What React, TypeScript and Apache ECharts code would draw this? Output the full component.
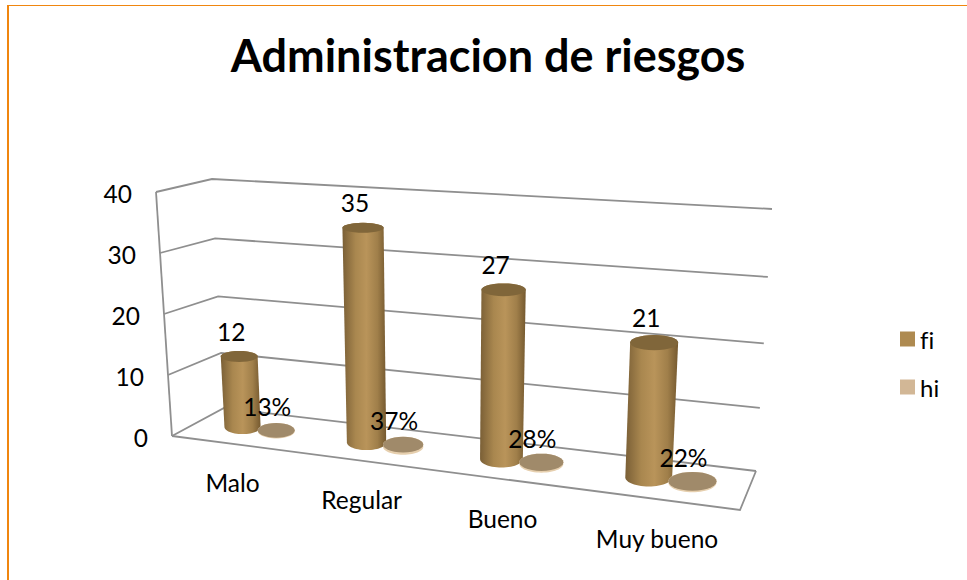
import React, { useEffect, useRef } from "react";
import * as echarts from "echarts";

const categories = ["Malo", "Regular", "Bueno", "Muy bueno"];
const fiName = "fi";
const hiName = "hi";
const fiValues = [12, 35, 27, 21];
const hiValues = [0.13, 0.37, 0.28, 0.22];
const yTicks = [0, 10, 20, 30, 40];
const titleText = "Administracion de riesgos";

const FONT = "Lato, Carlito, sans-serif";
const LABEL_SIZE = 24.5;
type Pt = [number, number];

// Builds the perspective map from the unit square onto a screen quadrilateral
// given as front-left, front-right, back-right, back-left.
function quadMap(p0: Pt, p1: Pt, p2: Pt, p3: Pt) {
  const dx1 = p1[0] - p2[0], dx2 = p3[0] - p2[0], sx = p0[0] - p1[0] + p2[0] - p3[0];
  const dy1 = p1[1] - p2[1], dy2 = p3[1] - p2[1], sy = p0[1] - p1[1] + p2[1] - p3[1];
  const det = dx1 * dy2 - dx2 * dy1;
  const g = (sx * dy2 - dx2 * sy) / det;
  const h = (dx1 * sy - sx * dy1) / det;
  const a = p1[0] - p0[0] + g * p1[0], b = p3[0] - p0[0] + h * p3[0], c = p0[0];
  const d = p1[1] - p0[1] + g * p1[1], e = p3[1] - p0[1] + h * p3[1], f = p0[1];
  return (u: number, z: number): Pt => {
    const w = g * u + h * z + 1;
    return [(a * u + b * z + c) / w, (d * u + e * z + f) / w];
  };
}

const floorPlane = quadMap([172, 436], [740, 510], [756, 471], [224, 408]);

// Screen vector from the floor up to the axis maximum at the four floor corners.
const riseFrontLeft: Pt = [-16, -244];
const riseFrontRight: Pt = [14, -266];
const riseBackRight: Pt = [16, -262];
const riseBackLeft: Pt = [-12, -229];

// Depth foreshortening of the value axis: the back wall compresses its lower part.
const DEPTH_BOW = 0.05;

function rise(u: number, z: number, k: 0 | 1) {
  const front = riseFrontLeft[k] + (riseFrontRight[k] - riseFrontLeft[k]) * u;
  const back = riseBackLeft[k] + (riseBackRight[k] - riseBackLeft[k]) * u;
  return front + (back - front) * z;
}

// u runs along the categories, z from front to back, t from the floor (0) to the axis maximum (1).
function project(u: number, z: number, t: number): Pt {
  const a = floorPlane(u, z);
  const bowed = t - DEPTH_BOW * z * t * (1 - t);
  return [a[0] + rise(u, z, 0) * bowed, a[1] + rise(u, z, 1) * bowed];
}

const ROW_Z = 0.5;
const FI_SHIFT = -0.032;
const HI_SHIFT = 0.038;
const RADIUS_U = 0.038;
const RADIUS_Z = 0.25;

function ellipseAt(u: number, t: number, from: number, to: number): Pt[] {
  const c = project(u, ROW_Z, t);
  const rx = Math.abs(project(u + RADIUS_U, ROW_Z, t)[0] - project(u - RADIUS_U, ROW_Z, t)[0]) / 2;
  const ry = Math.abs(project(u, ROW_Z + RADIUS_Z, t)[1] - project(u, ROW_Z - RADIUS_Z, t)[1]) / 2;
  const out: Pt[] = [];
  const steps = 28;
  for (let k = 0; k <= steps; k++) {
    const a = from + ((to - from) * k) / steps;
    out.push([c[0] + rx * Math.cos(a), c[1] + ry * Math.sin(a)]);
  }
  return out;
}

// Reads the normalised position of a datum from the hidden cartesian axes.
function normalised(api: any, params: any, cat: number, value: number) {
  const sys = params.coordSys;
  const p = api.coord([cat, value]);
  return { u: (p[0] - sys.x) / sys.width, t: (sys.y + sys.height - p[1]) / sys.height };
}

function cylinder(u: number, t: number, side: any, cap: string) {
  const body = [...ellipseAt(u, 0, 0, Math.PI), ...ellipseAt(u, t, Math.PI, 2 * Math.PI)];
  return [
    { type: "polygon", shape: { points: body }, style: { fill: side } },
    { type: "polygon", shape: { points: ellipseAt(u, t, 0, 2 * Math.PI) }, style: { fill: cap } },
  ];
}

function label(text: string, x: number, y: number, align = "center") {
  return {
    type: "text",
    x,
    y,
    style: { text, fill: "#000", font: `${LABEL_SIZE}px ${FONT}`, align, verticalAlign: "middle" },
  };
}

function columnShade() {
  return new echarts.graphic.LinearGradient(0, 0, 1, 0, [
    { offset: 0, color: "#7a5f36" },
    { offset: 0.3, color: "#a9874f" },
    { offset: 0.55, color: "#b9945a" },
    { offset: 0.8, color: "#a07f4a" },
    { offset: 1, color: "#75592f" },
  ]);
}

export default function App() {
  const ref = useRef<HTMLDivElement>(null);

  useEffect(() => {
    const chart = echarts.init(ref.current!, undefined, { renderer: "svg" });

    const lineStyle = { stroke: "#8f8f8f", lineWidth: 1.8, fill: "none" };

    const wallSeries = {
      type: "custom",
      name: "walls",
      silent: true,
      z: 1,
      data: yTicks.map((tick) => [0, tick]),
      renderItem: (params: any, api: any) => {
        const tick = api.value(1);
        const { t } = normalised(api, params, 0, tick);
        const frontLeft = project(0, 0, t);
        const backLeft = project(0, 1, t);
        const backRight = project(1, 1, t);
        const children: any[] = [
          { type: "polyline", shape: { points: [frontLeft, backLeft, backRight] }, style: lineStyle },
          label(String(tick), frontLeft[0] - 24, frontLeft[1] + 1, "right"),
        ];
        if (t === 0) {
          children.push({
            type: "polyline",
            shape: { points: [frontLeft, project(1, 0, 0), backRight] },
            style: lineStyle,
          });
          children.push({
            type: "polyline",
            shape: { points: [frontLeft, project(0, 0, 1)] },
            style: lineStyle,
          });
        }
        return { type: "group", children };
      },
    };

    const fiSeries = {
      type: "custom",
      name: fiName,
      z: 2,
      itemStyle: { color: "#ae8a50" },
      data: fiValues.map((v, i) => [i, v]),
      renderItem: (params: any, api: any) => {
        const i = api.value(0);
        const value = api.value(1);
        const { u, t } = normalised(api, params, i, value);
        const at = u + FI_SHIFT;
        const top = project(at, ROW_Z, t);
        const floorLabel = project(u, 0, 0);
        return {
          type: "group",
          children: [
            ...cylinder(at, t, columnShade(), "#80663a"),
            label(String(value), top[0] - 8, top[1] - 25),
            label(categories[i], floorLabel[0], floorLabel[1] + 39),
          ],
        };
      },
    };

    const hiSeries = {
      type: "custom",
      name: hiName,
      z: 3,
      itemStyle: { color: "#d2b796" },
      data: hiValues.map((v, i) => [i, v]),
      renderItem: (params: any, api: any) => {
        const i = api.value(0);
        const value = api.value(1);
        const { u, t } = normalised(api, params, i, value);
        const at = u + HI_SHIFT;
        const top = project(at, ROW_Z, t);
        return {
          type: "group",
          children: [
            ...cylinder(at, t, "#e6cfae", "#a08a6a"),
            label(`${Math.round(value * 100)}%`, top[0] - 9, top[1] - 24),
          ],
        };
      },
    };

    chart.setOption({
      animation: false,
      backgroundColor: "#ffffff",
      title: {
        text: titleText,
        left: 483,
        top: 27,
        textAlign: "center",
        textStyle: { fontFamily: FONT, fontWeight: "bold", fontSize: 45, color: "#000" },
      },
      legend: {
        data: [fiName, hiName],
        orient: "vertical",
        left: 900,
        top: 327,
        padding: 0,
        itemWidth: 15,
        itemHeight: 15,
        itemGap: 24,
        icon: "rect",
        textStyle: { fontFamily: FONT, fontSize: 24, color: "#000" },
      },
      grid: { left: 0, right: 0, top: 0, bottom: 0 },
      xAxis: { type: "category", data: categories, show: false },
      yAxis: { type: "value", min: 0, max: 40, interval: 10, show: false },
      graphic: [
        { type: "rect", shape: { x: 7, y: 5, width: 2, height: 575 }, style: { fill: "#f0860f" } },
        { type: "rect", shape: { x: 7, y: 5, width: 960, height: 1 }, style: { fill: "#f0860f" } },
      ],
      series: [wallSeries, fiSeries, hiSeries],
    });

    return () => chart.dispose();
  }, []);

  return (
    <div
      ref={ref}
      style={{ position: "absolute", left: 0, top: 0, width: 967, height: 580, fontVariantLigatures: "none" }}
    />
  );
}
